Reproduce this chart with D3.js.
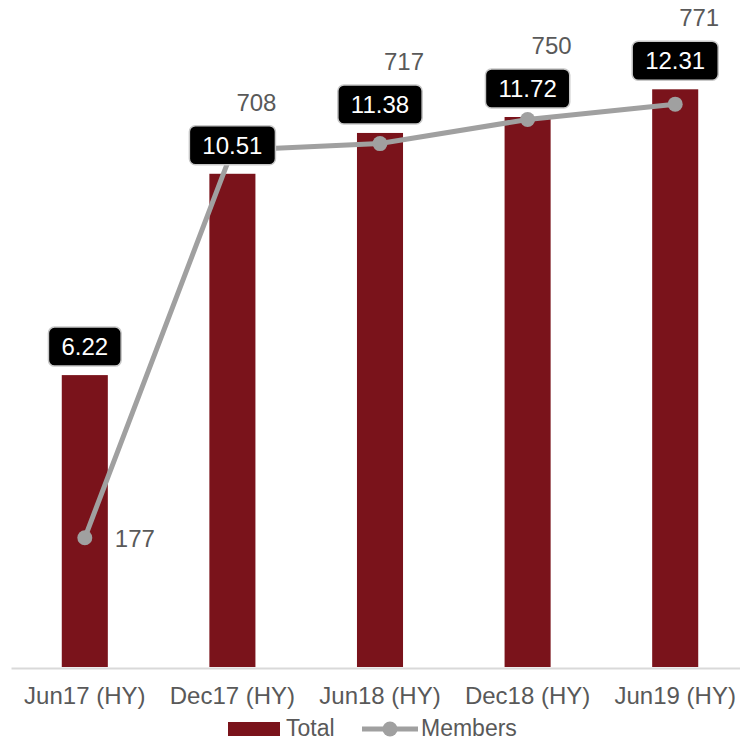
<!DOCTYPE html>
<html>
<head>
<meta charset="utf-8">
<script src="https://cdn.jsdelivr.net/npm/d3@7"></script>
<style>
  html, body { margin: 0; padding: 0; background: #fff; }
  svg { display: block; font-family: "Liberation Sans", Arial, Helvetica, sans-serif; }
</style>
</head>
<body>
<svg id="chart" width="740" height="741"></svg>
<script>
const categories = ["Jun17 (HY)", "Dec17 (HY)", "Jun18 (HY)", "Dec18 (HY)", "Jun19 (HY)"];
const totalValues = [6.22, 10.51, 11.38, 11.72, 12.31];
const memberValues = [177, 708, 717, 750, 771];
const memberLabelPos = ["right", "above", "above", "above", "above"];
const seriesNames = ["Total", "Members"];

const W = 740, H = 741;
const baseY = 667, topY = 10;
const barColor = "#7a131b";
const lineColor = "#a0a0a0";
const textColor = "#595959";

const svg = d3.select("#chart");

const x = d3.scaleBand().domain(categories).range([11, 749]).paddingInner(0.688).paddingOuter(0.344);
const yBar = d3.scaleLinear().domain([0, 14]).range([baseY, topY]);
const yLine = d3.scaleLinear().domain([0, 900]).range([baseY, topY]);
const cx = c => x(c) + x.bandwidth() / 2;

// Bars
svg.append("g").selectAll("rect").data(categories).join("rect")
  .attr("x", d => x(d))
  .attr("width", x.bandwidth())
  .attr("y", (d, i) => yBar(totalValues[i]))
  .attr("height", (d, i) => baseY - yBar(totalValues[i]))
  .attr("fill", barColor);

// Axis
const axis = svg.append("g").attr("transform", `translate(0,${baseY + 1})`)
  .call(d3.axisBottom(x).tickSize(0).tickPadding(0));
axis.select(".domain").attr("stroke", "#d9d9d9").attr("stroke-width", 2);
axis.selectAll(".tick text")
  .attr("y", 36).attr("dy", 0)
  .attr("font-size", 24).attr("fill", textColor)
  .attr("font-family", '"Liberation Sans", Arial, sans-serif');

// Line
const lineGen = d3.line().x((d, i) => cx(categories[i])).y(d => yLine(d));
svg.append("path").datum(memberValues)
  .attr("d", lineGen)
  .attr("fill", "none").attr("stroke", lineColor).attr("stroke-width", 5);
svg.append("g").selectAll("circle").data(memberValues).join("circle")
  .attr("cx", (d, i) => cx(categories[i]))
  .attr("cy", d => yLine(d))
  .attr("r", 7.5).attr("fill", lineColor);

// Bar value boxes
const boxG = svg.append("g");
const boxTops = [];
totalValues.forEach((v, i) => {
  const label = v.toFixed(2);
  const g = boxG.append("g");
  const t = g.append("text")
    .attr("x", cx(categories[i]))
    .attr("text-anchor", "middle")
    .attr("font-size", 24).attr("fill", "#fff")
    .text(label);
  const tw = t.node().getComputedTextLength();
  const bw = tw + 26, bh = 39;
  const bottom = yBar(v) - 9;
  const top = bottom - bh;
  boxTops.push(top);
  g.insert("rect", "text")
    .attr("x", cx(categories[i]) - bw / 2).attr("y", top)
    .attr("width", bw).attr("height", bh)
    .attr("rx", 6).attr("ry", 6)
    .attr("fill", "#000").attr("stroke", "#c8c8c8").attr("stroke-width", 1.5);
  t.attr("y", top + bh / 2 + 8.5);
});

// Member labels
svg.append("g").selectAll("text").data(memberValues).join("text")
  .attr("font-size", 24).attr("fill", textColor)
  .attr("text-anchor", (d, i) => memberLabelPos[i] === "right" ? "start" : "middle")
  .attr("x", (d, i) => memberLabelPos[i] === "right" ? cx(categories[i]) + 30 : cx(categories[i]) + 24)
  .attr("y", (d, i) => memberLabelPos[i] === "right" ? yLine(d) + 9 : boxTops[i] - 15)
  .text(d => d);

// Legend
const lg = svg.append("g");
lg.append("rect").attr("x", 228).attr("y", 722).attr("width", 52).attr("height", 14).attr("fill", barColor);
lg.append("text").attr("x", 286).attr("y", 736).attr("font-size", 23).attr("fill", textColor).text(seriesNames[0]);
lg.append("line").attr("x1", 362).attr("x2", 418).attr("y1", 729).attr("y2", 729)
  .attr("stroke", lineColor).attr("stroke-width", 5);
lg.append("circle").attr("cx", 390).attr("cy", 729).attr("r", 7.5).attr("fill", lineColor);
lg.append("text").attr("x", 421).attr("y", 736).attr("font-size", 23).attr("fill", textColor).text(seriesNames[1]);
</script>
</body>
</html>
